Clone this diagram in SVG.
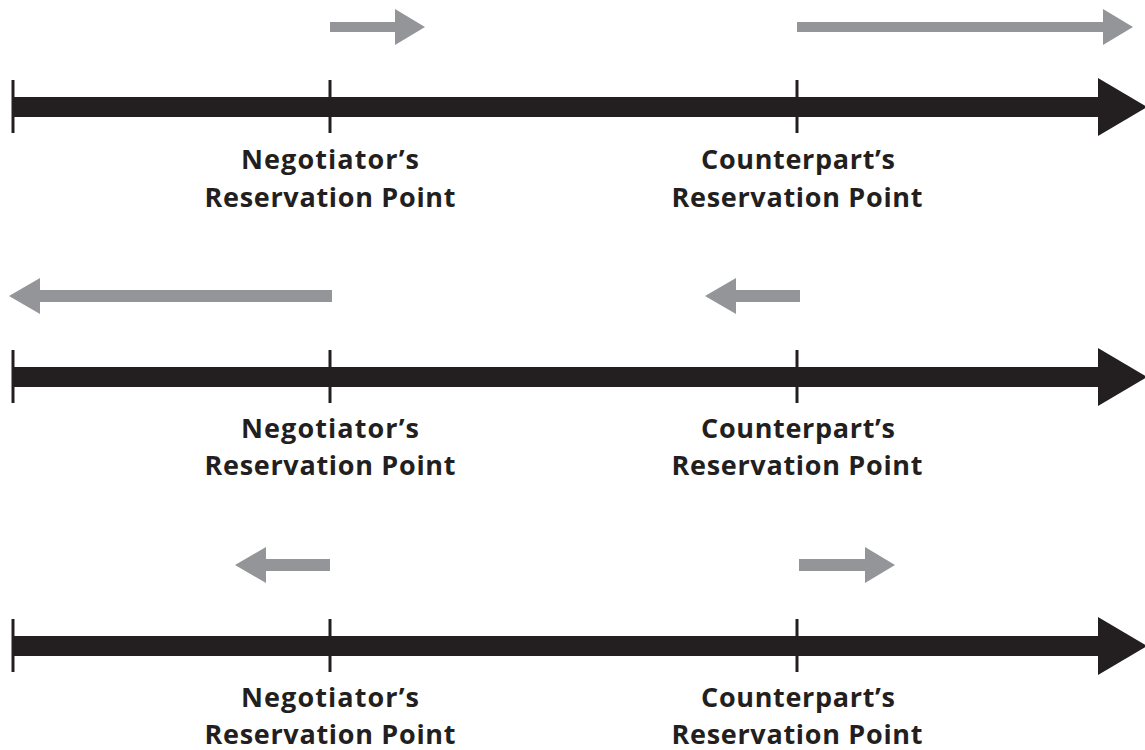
<svg xmlns="http://www.w3.org/2000/svg" width="1145" height="750" viewBox="0 0 1145 750">
<style>
.bar{fill:#231f20}
.tick{stroke:#231f20;stroke-width:3}
.g{fill:#939598}
.lbl{font-family:"Open Sans","Liberation Sans",sans-serif;font-weight:bold;font-size:27px;fill:#231f20;text-anchor:middle}
</style>
<defs>
<g id="axis">
<rect class="bar" x="13" y="-10" width="1087" height="20"/>
<polygon class="bar" points="1098,-29 1147,0 1098,29"/>
<line class="tick" x1="13" y1="-27" x2="13" y2="26"/>
<line class="tick" x1="330" y1="-27" x2="330" y2="26"/>
<line class="tick" x1="797" y1="-27" x2="797" y2="26"/>
</g>
</defs>
<g id="panel1">
<use href="#axis" transform="translate(0,107)"/>
<g id="p1-neg-arrow"><polygon class="g" points="330,22 395,22 395,9 425,27 395,45 395,32 330,32"/></g>
<g id="p1-cp-arrow"><polygon class="g" points="797,22 1103,22 1103,9 1133,27 1103,45 1103,32 797,32"/></g>
<g id="p1-neg-label"><text class="lbl" x="330" y="169" textLength="178" lengthAdjust="spacing">Negotiator’s</text><text class="lbl" x="330" y="207" textLength="251" lengthAdjust="spacing">Reservation Point</text></g>
<g id="p1-cp-label"><text class="lbl" x="798" y="169" textLength="194" lengthAdjust="spacing">Counterpart’s</text><text class="lbl" x="797" y="207" textLength="251" lengthAdjust="spacing">Reservation Point</text></g>
</g>
<g id="panel2">
<use href="#axis" transform="translate(0,377)"/>
<g id="p2-neg-arrow"><polygon class="g" points="332,290 40,290 40,278 9,296 40,314 40,302 332,302"/></g>
<g id="p2-cp-arrow"><polygon class="g" points="800,290 736,290 736,278 705,296 736,314 736,302 800,302"/></g>
<g id="p2-neg-label"><text class="lbl" x="330" y="438" textLength="178" lengthAdjust="spacing">Negotiator’s</text><text class="lbl" x="330" y="475" textLength="251" lengthAdjust="spacing">Reservation Point</text></g>
<g id="p2-cp-label"><text class="lbl" x="798" y="438" textLength="194" lengthAdjust="spacing">Counterpart’s</text><text class="lbl" x="797" y="475" textLength="251" lengthAdjust="spacing">Reservation Point</text></g>
</g>
<g id="panel3">
<use href="#axis" transform="translate(0,646)"/>
<g id="p3-neg-arrow"><polygon class="g" points="330,559 266,559 266,547 235,565 266,583 266,571 330,571"/></g>
<g id="p3-cp-arrow"><polygon class="g" points="799,559 865,559 865,547 895,565 865,583 865,571 799,571"/></g>
<g id="p3-neg-label"><text class="lbl" x="330" y="707" textLength="178" lengthAdjust="spacing">Negotiator’s</text><text class="lbl" x="330" y="744" textLength="251" lengthAdjust="spacing">Reservation Point</text></g>
<g id="p3-cp-label"><text class="lbl" x="798" y="707" textLength="194" lengthAdjust="spacing">Counterpart’s</text><text class="lbl" x="797" y="744" textLength="251" lengthAdjust="spacing">Reservation Point</text></g>
</g>
</svg>
